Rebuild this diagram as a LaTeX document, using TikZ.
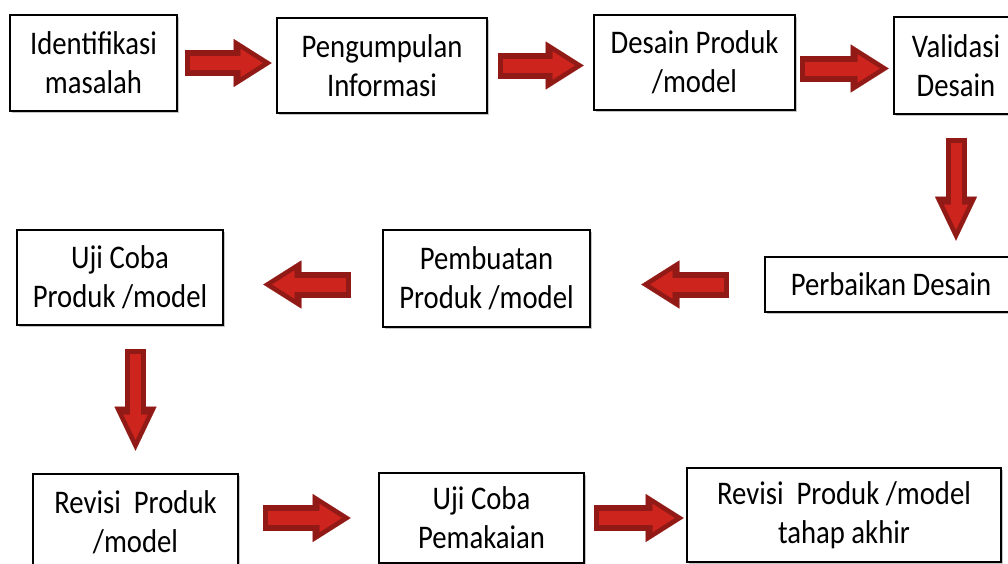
\documentclass[tikz,border=0pt]{standalone}
\usepackage{fontspec}
\setmainfont{Carlito}[FakeStretch=0.87]
\usetikzlibrary{arrows.meta,shadows}
\definecolor{arrowdark}{RGB}{146,26,22}
\definecolor{arrowlight}{RGB}{206,36,30}

\begin{document}
\begin{tikzpicture}[
    x=1pt, y=-1pt,
    stage/.style={draw, line width=2.6pt, fill=white, align=center, inner sep=0pt,
        font=\fontsize{33}{39}\selectfont,
        drop shadow={shadow xshift=1.5pt, shadow yshift=-2pt, fill=black!45, opacity=0.5}},
    flow/.style 2 args={draw=arrowdark, line width=26pt,
        -{Triangle[width=48pt, length=38pt, line width=0.1pt]},
        shorten <=#1, shorten >=#2,
        postaction={draw=arrowlight, line width=14pt,
            -{Triangle[width=28pt, length=22pt, line width=0.1pt]},
            shorten <=#1+5pt, shorten >=#2+9pt}},
    flowdown/.style 2 args={draw=arrowdark, line width=21pt,
        -{Triangle[width=42pt, length=44pt, line width=0.1pt]},
        shorten <=#1, shorten >=#2,
        postaction={draw=arrowlight, line width=11pt,
            -{Triangle[width=24pt, length=25pt, line width=0.1pt]},
            shorten <=#1+5pt, shorten >=#2+11pt}}
]
\useasboundingbox (0,0) rectangle (1008,563);

% Row 1: left to right
\node[stage, minimum width=167pt, minimum height=96pt] (im) at (93.5,63) {Identifikasi\\masalah};
\node[stage, minimum width=210pt, minimum height=95pt] (pi) at (382,65.5) {Pengumpulan\\Informasi};
\node[stage, minimum width=201pt, minimum height=95pt] (dp) at (694.5,62.5) {Desain Produk\\/model};
\node[stage, minimum width=124pt, minimum height=97pt] (vd) at (956,65.5) {Validasi\\Desain};

% Row 2: right to left
\node[stage, minimum width=252pt, minimum height=55pt] (pd) at (891,284.5) {Perbaikan Desain};
\node[stage, minimum width=207pt, minimum height=97pt] (pp) at (486.5,278.5) {Pembuatan\\Produk /model};
\node[stage, minimum width=206pt, minimum height=95pt] (up) at (120,277.5) {Uji Coba\\Produk /model};

% Row 3: left to right
\node[stage, minimum width=205pt, minimum height=96pt] (rp) at (135.5,522) {Revisi\ \ Produk\\/model};
\node[stage, minimum width=205pt, minimum height=90pt] (uk) at (481.5,518) {Uji Coba\\Pemakaian};
\node[stage, minimum width=314pt, minimum height=94pt] (ra) at (844,515) {Revisi\ \ Produk /model\\tahap akhir};

% Block arrows between stages
\draw[flow={7pt}{4pt}] (im.east) -- (im.east -| pi.west);
\draw[flow={10pt}{9pt}] (pi.east) -- (pi.east -| dp.west);
\draw[flow={4pt}{4pt}] ([yshift=-6pt]dp.east) -- ([yshift=-6pt]dp.east -| vd.west);
\draw[flowdown={23pt}{15pt}] (vd.south) -- (vd.south |- pd.north);
\draw[flow={35pt}{50pt}] (pd.west) -- (pd.west -| pp.east);
\draw[flow={31pt}{39pt}] (pp.west |- pd.west) -- (up.east |- pd.west);
\draw[flowdown={23pt}{22pt}] (rp.north |- up.south) -- (rp.north);
\draw[flow={24pt}{27pt}] (rp.east |- uk.west) -- (uk.west);
\draw[flow={9pt}{2pt}] (uk.east) -- (uk.east -| ra.west);

\end{tikzpicture}
\end{document}
